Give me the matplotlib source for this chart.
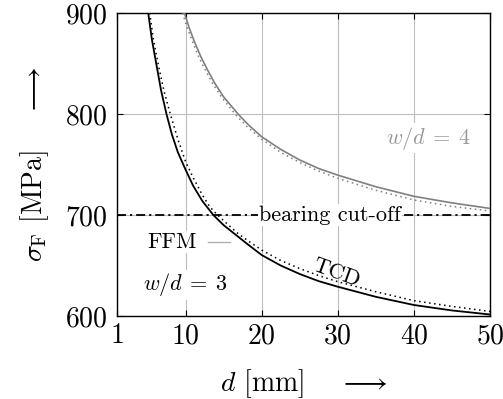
import numpy as np
import matplotlib
matplotlib.use("Agg")
import matplotlib.pyplot as plt

plt.rcParams['font.family'] = 'serif'
plt.rcParams['font.serif'] = ['cmr10']
plt.rcParams['mathtext.fontset'] = 'cm'
plt.rcParams['axes.formatter.use_mathtext'] = True

# values (d in mm, sigma_F in MPa)
ffm3_d = [5.1, 5.6, 6.2, 6.8, 7.5, 8.2, 9.0, 10.0, 11.0, 12.2, 13.65, 15.0, 16.5,
          18.0, 20.0, 22.5, 25.0, 27.5, 30.0, 35.0, 40.0, 45.0, 50.0]
ffm3_s = [900, 873, 848, 823, 800, 780, 762, 745, 729, 714, 700, 690, 681,
          672, 660.4, 650, 641.6, 634.5, 629.0, 619.0, 610.9, 605.5, 601.5]

tcd3_d = [5.3, 5.8, 6.5, 7.2, 8.0, 9.0, 10.0, 11.0, 12.2, 13.2, 14.2, 15.5, 17.0,
          18.5, 20.0, 22.5, 25.0, 27.5, 30.0, 35.0, 40.0, 45.0, 50.0]
tcd3_s = [900, 873, 846, 822, 800, 775, 753, 737, 720, 708, 700, 691, 681,
          673, 665.3, 655, 647, 640, 634, 624, 615.2, 609.5, 604.5]

ffm4_d = [9.85, 10.5, 11.2, 12.0, 12.8, 13.8, 15.0, 16.9, 18.3, 20.0, 22.5, 25.0,
          27.5, 30.0, 35.0, 40.0, 45.0, 50.0]
ffm4_s = [900, 885, 871, 857, 845, 831, 817, 800, 789, 777.5, 765, 754.5,
          746, 739.5, 728, 718.5, 712, 706.5]

tcd4_d = [9.6, 10.2, 10.9, 11.7, 12.5, 13.5, 14.8, 16.5, 18.0, 20.0, 22.5, 25.0,
          27.5, 30.0, 35.0, 40.0, 45.0, 50.0]
tcd4_s = [900, 886, 872, 857, 845, 831, 816, 800, 788, 775, 762, 752,
          743.5, 736.3, 724.5, 714.9, 708.5, 704.0]

cutoff = 700
xticks = [1, 10, 20, 30, 40, 50]
yticks = [600, 700, 800, 900]

fig = plt.figure(figsize=(5.03, 3.99), dpi=100)
ax = fig.add_axes([0.2326, 0.208, 0.7416, 0.7594])

ax.plot(ffm4_d, ffm4_s, color='#808080', lw=1.2, zorder=3)
ax.plot(tcd4_d, tcd4_s, color='#808080', lw=1.1, ls=(0, (1, 2.3)), zorder=3)
ax.plot(ffm3_d, ffm3_s, color='black', lw=1.3, zorder=3)
ax.plot(tcd3_d, tcd3_s, color='black', lw=1.1, ls=(0, (1, 2.3)), zorder=3)

ax.axhline(cutoff, color='black', lw=1.3, ls=(0, (5, 2.2, 1.2, 2.2)), zorder=2)

white = dict(facecolor='white', edgecolor='none', pad=1.0)
ax.text(29.0, cutoff, 'bearing cut-off', fontsize=16, ha='center', va='center',
        bbox=white, zorder=4)
ax.text(41.9, 776, r'$w/d\:=\:4$', fontsize=16, color='#999999', ha='center',
        va='center', bbox=white, zorder=4)
ax.text(10.0, 631, r'$w/d\:=\:3$', fontsize=16, ha='center', va='center',
        bbox=white, zorder=4)
ax.text(8.2, 673, 'FFM', fontsize=16, ha='center', va='center',
        bbox=white, zorder=4)
ax.plot([12.95, 15.85], [673, 673], color='#b0b0b0', lw=1.0, zorder=4)
ax.text(29.8, 643, 'TCD', fontsize=16, ha='center', va='center',
        rotation=-20, rotation_mode='anchor', zorder=4)

ax.set_xlim(1, 50)
ax.set_ylim(600, 900)
ax.set_xticks(xticks)
ax.set_yticks(yticks)
ax.grid(True, color='#bdbdbd', lw=0.8)
ax.set_axisbelow(True)
ax.tick_params(direction='in', length=4, width=0.8, top=True, right=True,
               labelsize=20)
ax.tick_params(axis='x', pad=5)
ax.tick_params(axis='y', pad=7)
for s in ax.spines.values():
    s.set_linewidth(1.0)

ax.set_xlabel(r'$d$ [mm] $\quad\longrightarrow$', fontsize=20, labelpad=13)
ax.set_ylabel(r'$\sigma_\mathrm{F}$ [MPa] $\quad\longrightarrow$', fontsize=20,
              labelpad=10)

fig.savefig('out.png', dpi=100)
